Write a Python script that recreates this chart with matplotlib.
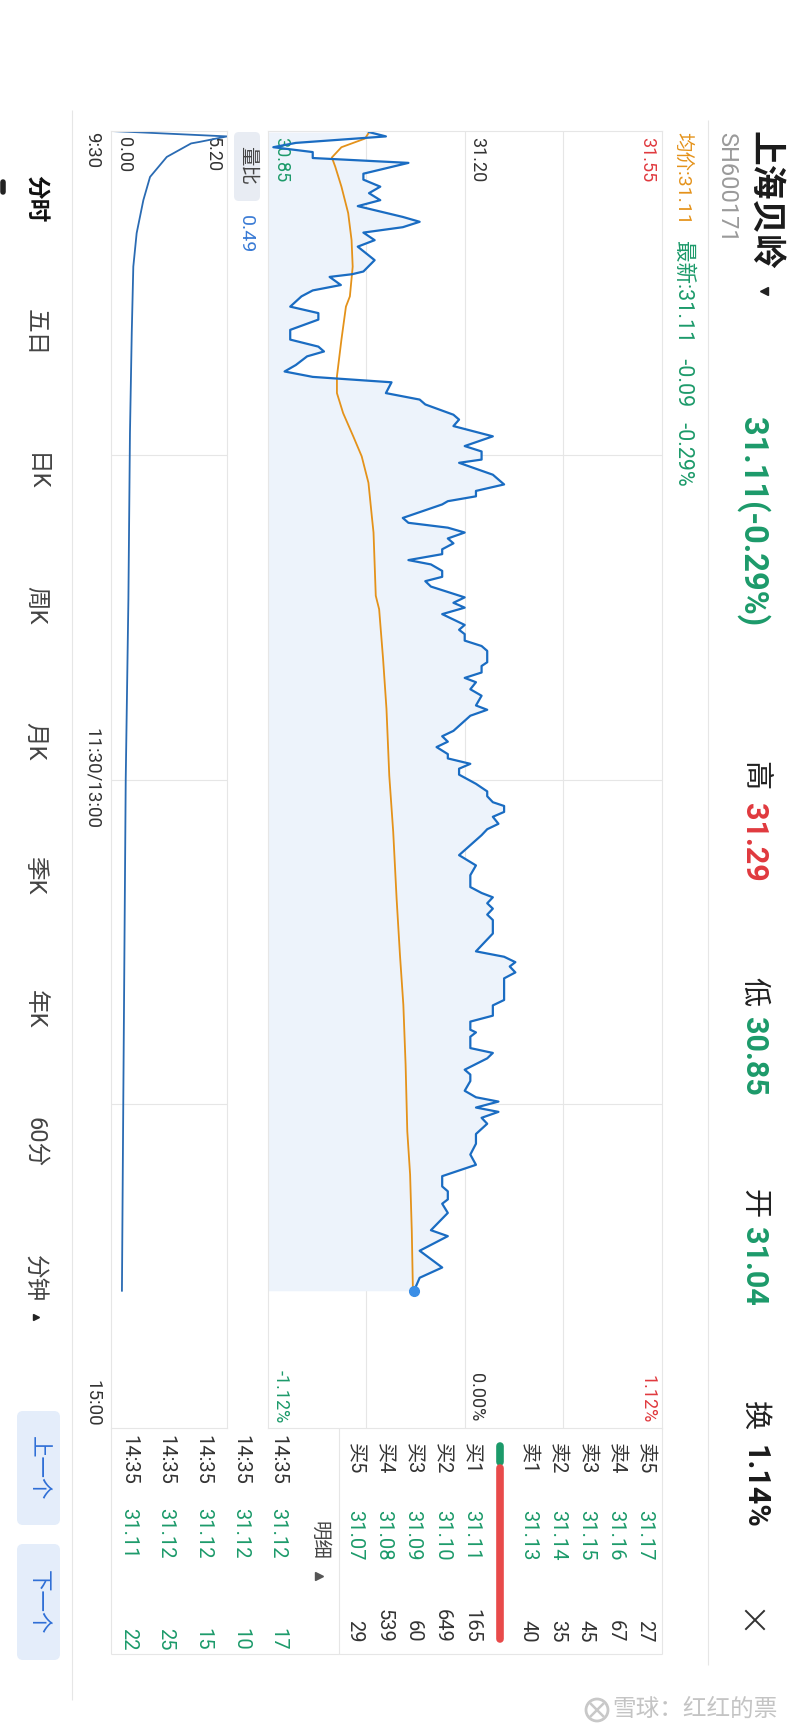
import matplotlib
matplotlib.use("Agg")
import matplotlib.pyplot as plt
from matplotlib.patches import FancyBboxPatch, Circle

plt.rcParams["font.family"] = ["Roboto", "Noto Sans CJK SC", "DejaVu Sans"]

W, H = 800, 1734

# -----------------------------
# Data
# -----------------------------
# intraday price, minutes after 9:30 (lunch break removed)
price_min = [0.2, 1.0, 2.2, 3.0, 3.9, 5.0, 5.9, 7.9, 9.0, 10.3,
             11.5, 12.8, 13.9, 15.9, 16.8, 17.8, 18.8, 20.2, 21.4, 23.9,
             26.0, 26.5, 27.0, 28.5, 29.5, 30.6, 32.5, 33.7, 34.9, 36.8,
             38.6, 39.9, 40.8, 41.7, 43.3, 44.5, 45.5, 46.5, 48.5, 49.7,
             50.6, 52.5, 53.4, 54.6, 56.5, 58.3, 59.3, 60.8, 61.4, 63.6,
             65.4, 66.6, 67.6, 68.5, 69.1, 71.6, 72.5, 73.4, 74.3, 75.4,
             76.3, 77.4, 78.3, 79.4, 80.2, 81.4, 82.5, 83.3, 84.3, 86.3,
             87.3, 88.2, 89.4, 90.9, 91.4, 92.3, 93.1, 94.3, 95.3, 96.2,
             98.3, 99.0, 100.2, 101.2, 102.0, 103.3, 104.5, 106.3, 107.1, 108.2,
             111.0, 112.0, 113.0, 114.0, 115.3, 116.1, 117.1, 118.0, 119.1, 120.8,
             122.2, 123.1, 124.2, 124.9, 126.0, 126.9, 128.2, 129.2, 130.3, 134.0,
             135.9, 137.7, 139.9, 141.0, 141.8, 142.9, 143.9, 145.0, 146.0, 148.5,
             151.8, 152.8, 153.8, 154.6, 155.7, 156.8, 160.8, 161.8, 163.7, 164.8,
             166.3, 166.8, 167.6, 169.7, 170.6, 171.6, 173.7, 174.6, 175.8, 177.6,
             178.8, 179.6, 180.7, 181.5, 182.6, 183.7, 185.6, 187.4, 189.4, 191.3,
             193.4, 194.3, 195.3, 196.2, 197.7, 198.5, 200.2, 203.4, 204.5, 207.2,
             210.3, 212.2, 214.6]
price_val = [31.03, 31.06, 30.90, 30.86, 30.93, 30.93, 31.10, 31.02, 31.02, 31.05,
             31.03, 31.05, 31.01, 31.09, 31.12, 31.09, 31.02, 31.04, 31.01, 31.04,
             31.02, 31.00, 30.96, 30.98, 30.93, 30.91, 30.89, 30.94, 30.94, 30.89,
             30.89, 30.94, 30.95, 30.92, 30.90, 30.88, 30.93, 31.07, 31.06, 31.12,
             31.13, 31.18, 31.19, 31.18, 31.25, 31.20, 31.23, 31.23, 31.19, 31.25,
             31.27, 31.22, 31.22, 31.17, 31.16, 31.09, 31.10, 31.17, 31.20, 31.17,
             31.18, 31.16, 31.16, 31.10, 31.14, 31.16, 31.16, 31.13, 31.14, 31.20,
             31.18, 31.20, 31.16, 31.19, 31.20, 31.19, 31.20, 31.20, 31.23, 31.24,
             31.24, 31.23, 31.23, 31.20, 31.22, 31.21, 31.23, 31.22, 31.24, 31.21,
             31.18, 31.16, 31.17, 31.15, 31.17, 31.17, 31.21, 31.19, 31.19, 31.22,
             31.24, 31.24, 31.25, 31.27, 31.27, 31.25, 31.26, 31.24, 31.23, 31.19,
             31.22, 31.21, 31.21, 31.23, 31.25, 31.24, 31.25, 31.24, 31.25, 31.25,
             31.22, 31.27, 31.29, 31.28, 31.29, 31.27, 31.27, 31.25, 31.25, 31.21,
             31.21, 31.22, 31.21, 31.21, 31.25, 31.24, 31.20, 31.21, 31.21, 31.20,
             31.22, 31.26, 31.22, 31.26, 31.23, 31.24, 31.22, 31.22, 31.21, 31.22,
             31.16, 31.16, 31.16, 31.17, 31.17, 31.16, 31.17, 31.14, 31.17, 31.12,
             31.16, 31.12, 31.11]

# average price line
avg_min = [0.4, 1.4, 3.0, 4.9, 6.6, 10.3, 15.2, 20.2, 25.1, 30.6,
           32.5, 38.6, 45.4, 48.5, 52.2, 56.5, 60.2, 65.1, 71.3, 74.3,
           86.0, 88.5, 97.7, 106.9, 119.3, 129.7, 142.0, 152.5, 161.7, 172.8,
           185.1, 193.1, 203.6, 214.6]
avg_val = [31.029, 31.023, 30.981, 30.964, 30.970, 30.981, 30.993, 30.999, 31.001, 30.996,
           30.989, 30.981, 30.973, 30.973, 30.984, 31.002, 31.017, 31.029, 31.035, 31.038,
           31.042, 31.048, 31.055, 31.061, 31.066, 31.073, 31.079, 31.085, 31.091, 31.095,
           31.098, 31.103, 31.106, 31.108]

# volume ratio (量比)
vol_min = [0.0, 1.0, 2.0, 2.3, 4.8, 8.5, 12.8, 18.9, 25.1, 37.4, 55.9, 86.6, 120.0, 180.0, 214.6]
vol_ratio = [0.00, 5.20, 3.99, 3.59, 2.50, 1.75, 1.45, 1.15, 1.00, 0.93, 0.85, 0.78, 0.66, 0.55, 0.49]

price_lo, prev_close, price_hi = 30.85, 31.20, 31.55
vol_hi = 5.20

ask_labels = ["卖5", "卖4", "卖3", "卖2", "卖1"]
ask_prices = ["31.17", "31.16", "31.15", "31.14", "31.13"]
ask_vols = ["27", "67", "45", "35", "40"]
bid_labels = ["买1", "买2", "买3", "买4", "买5"]
bid_prices = ["31.11", "31.10", "31.09", "31.08", "31.07"]
bid_vols = ["165", "649", "60", "539", "29"]

trade_times = ["14:35", "14:35", "14:35", "14:35", "14:35"]
trade_prices = ["31.12", "31.12", "31.12", "31.12", "31.11"]
trade_vols = ["17", "10", "15", "25", "22"]

tabs = ["分时", "五日", "日K", "周K", "月K", "季K", "年K", "60分", "分钟"]

RED = "#e0393e"
GREEN = "#1c9a6a"
BLUE = "#1a6cc2"
ORANGE = "#e4921a"
GRID = "#e6e6e6"
DARK = "#333333"

# -----------------------------
# Canvas (pixel coordinates, y down)
# -----------------------------
fig = plt.figure(figsize=(W / 100, H / 100), dpi=100)
fig.patch.set_facecolor("white")
bg = fig.add_axes([0, 0, 1, 1])
bg.set_xlim(0, W)
bg.set_ylim(H, 0)
bg.axis("off")
bg.set_zorder(0)


def px_axes(x0, y0, x1, y1):
    return fig.add_axes([x0 / W, 1 - y1 / H, (x1 - x0) / W, (y1 - y0) / H])


def vtext(ax, x, y, s, va="top", **kw):
    # rotated text, reading top to bottom
    ax.text(x, y, s, rotation=270, ha="center", va=va,
            transform=bg.transData, **kw)


def vline(x, y0, y1, color=GRID, lw=0.8):
    bg.plot([x, x], [y0, y1], color=color, lw=lw, solid_capstyle="butt")


def hline(y, x0, x1, color=GRID, lw=0.8):
    bg.plot([x0, x1], [y, y], color=color, lw=lw, solid_capstyle="butt")


TOP, BOT = 131, 1428

# -----------------------------
# Price chart
# -----------------------------
ax_p = px_axes(267.7, TOP, 661.7, BOT)
ax_p.set_zorder(1)
ax_p.patch.set_alpha(0)
ax_p.set_xlim(price_lo, price_hi)
ax_p.set_ylim(240, 0)
ax_p.set_xticks([])
ax_p.set_yticks([])
for s in ax_p.spines.values():
    s.set_color(GRID)
    s.set_linewidth(0.8)
step = (price_hi - price_lo) / 4
for k in (1, 2, 3):
    ax_p.axvline(price_lo + k * step, color=GRID, lw=0.8, zorder=0.5)
for m in (60, 120, 180):
    ax_p.axhline(m, color=GRID, lw=0.8, zorder=0.5)

ax_p.fill_betweenx(price_min, price_lo, price_val, color="#edf3fb", lw=0, zorder=1)
ax_p.plot(avg_val, avg_min, color=ORANGE, lw=1.3, zorder=2)
ax_p.plot(price_val, price_min, color=BLUE, lw=1.6, zorder=2.5)
ax_p.plot(price_val[-1], price_min[-1], "o", ms=7, color="#3a8ee6", zorder=3)

lab = dict(fontsize=13, zorder=1.5)
vtext(ax_p, 647, 137, f"{price_hi:.2f}", color=RED, **lab)
vtext(ax_p, 477.5, 137, f"{prev_close:.2f}", color=DARK, **lab)
vtext(ax_p, 281, 137, f"{price_lo:.2f}", color=GREEN, **lab)
pct = (price_hi - prev_close) / prev_close * 100
vtext(ax_p, 647, 1423, f"{pct:.2f}%", va="bottom", color=RED, **lab)
vtext(ax_p, 476, 1421, "0.00%", va="bottom", color=DARK, **lab)
vtext(ax_p, 281, 1423, f"-{pct:.2f}%", va="bottom", color=GREEN, **lab)

# -----------------------------
# Volume ratio chart
# -----------------------------
ax_v = px_axes(111, TOP, 227, BOT)
ax_v.set_zorder(1)
ax_v.patch.set_alpha(0)
ax_v.set_xlim(0, vol_hi)
ax_v.set_ylim(240, 0)
ax_v.set_xticks([])
ax_v.set_yticks([])
for s in ax_v.spines.values():
    s.set_color(GRID)
    s.set_linewidth(0.8)
for m in (60, 120, 180):
    ax_v.axhline(m, color=GRID, lw=0.8, zorder=0.5)
vtext(ax_v, 123.5, 137, "0.00", color=DARK, fontsize=13, zorder=1)
vtext(ax_v, 212.5, 137, f"{vol_hi:.2f}", color=DARK, fontsize=13, zorder=1)
ax_v.plot(vol_ratio, vol_min, color="#2a6bb3", lw=1.3, zorder=2)

# time labels
vtext(bg, 92, 132, "9:30", color=DARK, fontsize=13.5)
vtext(bg, 92, 779, "11:30/13:00", va="center", color=DARK, fontsize=13.5)
vtext(bg, 92, 1427, "15:00", va="bottom", color=DARK, fontsize=13.5)

# 量比 badge
bg.add_patch(FancyBboxPatch((234, 132), 26, 69, boxstyle="round,pad=0,rounding_size=5",
                            fc="#e8ecf3", ec="none"))
vtext(bg, 247, 146, "量比", color="#444444", fontsize=14)
vtext(bg, 246, 215, f"{vol_ratio[-1]:.2f}", color="#3a7bd5", fontsize=14)

# -----------------------------
# Header
# -----------------------------
vtext(bg, 764, 131, "上海贝岭", color="#1a1a1a", fontsize=25, fontweight="bold")
bg.plot(764, 291, marker="<", ms=6, color="#222222")
vtext(bg, 727, 132, "SH600171", color="#9a9a9a", fontsize=17)
vtext(bg, 753, 417, "31.11(-0.29%)", color=GREEN, fontsize=23.5, fontweight="bold")

for lbl, y_lbl, val, y_val, col in [("高", 761, "31.29", 803, RED),
                                     ("低", 977, "30.85", 1017, GREEN),
                                     ("开", 1189, "31.04", 1227, GREEN),
                                     ("换", 1401, "1.14%", 1445, "#1a1a1a")]:
    vtext(bg, 754, y_lbl, lbl, color="#222222", fontsize=21)
    vtext(bg, 754, y_val, val, color=col, fontsize=22, fontweight="bold")

bg.plot([746, 764], [1611, 1629], color="#333333", lw=1.4)
bg.plot([746, 764], [1629, 1611], color="#333333", lw=1.4)

vtext(bg, 683, 132, "均价:31.11", color=ORANGE, fontsize=14)
vtext(bg, 683, 240, "最新:31.11   -0.09   -0.29%", color=GREEN, fontsize=15.5)

# -----------------------------
# Frame lines
# -----------------------------
vline(708, 120, 1665)
vline(72, 110, 1700)
vline(661.7, BOT, 1654)
vline(111, BOT, 1654)
vline(339.3, BOT, 1654)
hline(1654, 111, 661.7)

# -----------------------------
# Order book and trade detail
# -----------------------------
fs = 14.5
for i in range(5):
    x = 644.6 - 29.1 * i
    vtext(bg, x, 1443, ask_labels[i], color=DARK, fontsize=fs)
    vtext(bg, x, 1510, ask_prices[i], color=GREEN, fontsize=fs)
    vtext(bg, x, 1643, ask_vols[i], va="bottom", color=DARK, fontsize=fs)
for i in range(5):
    x = 471.4 - 29.2 * i
    vtext(bg, x, 1443, bid_labels[i], color=DARK, fontsize=fs)
    vtext(bg, x, 1510, bid_prices[i], color=GREEN, fontsize=fs)
    vtext(bg, x, 1643, bid_vols[i], va="bottom", color=DARK, fontsize=fs)

bg.plot([500, 500], [1446, 1462], color=GREEN, lw=5.5, solid_capstyle="round")
bg.plot([500, 500], [1468, 1639], color="#e84a4a", lw=5.5, solid_capstyle="round")

vtext(bg, 318.6, 1521, "明细", color="#444444", fontsize=14)
bg.plot(318.6, 1576, marker=">", ms=6, color="#555555")

for i in range(5):
    x = 277.9 - 37.3 * i
    vtext(bg, x, 1435, trade_times[i], color=DARK, fontsize=fs)
    vtext(bg, x, 1508, trade_prices[i], color=GREEN, fontsize=fs)
    vtext(bg, x, 1651, trade_vols[i], va="bottom", color=GREEN, fontsize=fs)

# -----------------------------
# Left tab bar
# -----------------------------
tab_y = [199, 333, 472, 605, 741, 875, 1009, 1142, 1279]
for name, y in zip(tabs, tab_y):
    if name == "分时":
        vtext(bg, 35, y, name, va="center", color="#111111", fontsize=17, fontweight="bold")
    else:
        vtext(bg, 35, y, name, va="center", color="#444444", fontsize=17)
bg.plot(36, 1317, marker=">", ms=5, color="#222222")
bg.plot([3, 3], [182, 192], color="#222222", lw=4, solid_capstyle="round")

for y0, y1, s in [(1411, 1525, "上一个"), (1544, 1660, "下一个")]:
    bg.add_patch(FancyBboxPatch((17, y0), 43, y1 - y0, boxstyle="round,pad=0,rounding_size=6",
                                fc="#e4edfa", ec="none"))
    vtext(bg, 38.5, (y0 + y1) / 2, s, va="center", color="#2f6fd6", fontsize=15.5)

# watermark
bg.add_patch(Circle((597, 1710), 11, fc="none", ec="#c8c8c8", lw=2))
bg.plot([591, 603], [1704, 1716], color="#c8c8c8", lw=1.8)
bg.plot([591, 603], [1716, 1704], color="#c8c8c8", lw=1.8)
bg.text(612, 1709, "雪球：红红的票", ha="left", va="center", color="#c4c4c4", fontsize=17)

bg.set_xlim(0, W)
bg.set_ylim(H, 0)

fig.savefig("out.png", dpi=100, facecolor="white")
